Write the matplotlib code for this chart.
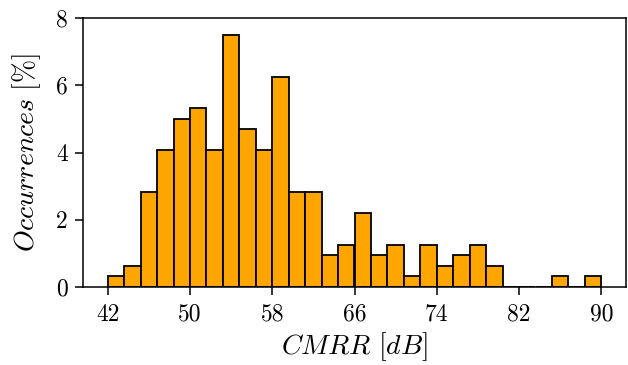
import numpy as np
import matplotlib
matplotlib.use("Agg")
import matplotlib.pyplot as plt

# CMRR histogram: 30 bins of 1.6 dB from 42 dB to 90 dB
bin_start = 42.0
bin_width = 1.6
occurrences_pct = [0.3125, 0.625, 2.8125, 4.0625, 5.0, 5.3125, 4.0625, 7.5,
                   4.6875, 4.0625, 6.25, 2.8125, 2.8125, 0.9375, 1.25, 2.1875,
                   0.9375, 1.25, 0.3125, 1.25, 0.625, 0.9375, 1.25, 0.625,
                   0.0, 0.0, 0.0, 0.3125, 0.0, 0.3125]
x_ticks = [42, 50, 58, 66, 74, 82, 90]
y_ticks = [0, 2, 4, 6, 8]

plt.rcParams["font.family"] = "serif"
plt.rcParams["font.serif"] = ["cmr10"]
plt.rcParams["mathtext.fontset"] = "cm"
plt.rcParams["axes.formatter.use_mathtext"] = True

fig = plt.figure(figsize=(6.28, 3.65), dpi=100)
ax = fig.add_axes([83 / 628, (365 - 287) / 365, (626 - 83) / 628, (287 - 18) / 365])

left_edges = bin_start + bin_width * np.arange(len(occurrences_pct))
ax.bar(left_edges, occurrences_pct, width=bin_width, align="edge",
       color="orange", edgecolor="black", linewidth=1.3)

ax.set_xticks(x_ticks)
ax.set_xticklabels([str(t) for t in x_ticks])
ax.set_yticks(y_ticks)
ax.set_yticklabels([str(t) for t in y_ticks])
ax.set_ylim(0, 8)
ax.tick_params(axis="x", labelsize=17, length=6, width=1.1, pad=6)
ax.tick_params(axis="y", labelsize=17, length=6, width=1.1, pad=5)
for s in ax.spines.values():
    s.set_linewidth(1.1)

ax.set_xlabel(r"$CMRR\ [dB]$", fontsize=20, labelpad=3)
ax.set_ylabel(r"$Occurrences\ [\%]$", fontsize=20, labelpad=9)

fig.savefig("out.png", dpi=100)
